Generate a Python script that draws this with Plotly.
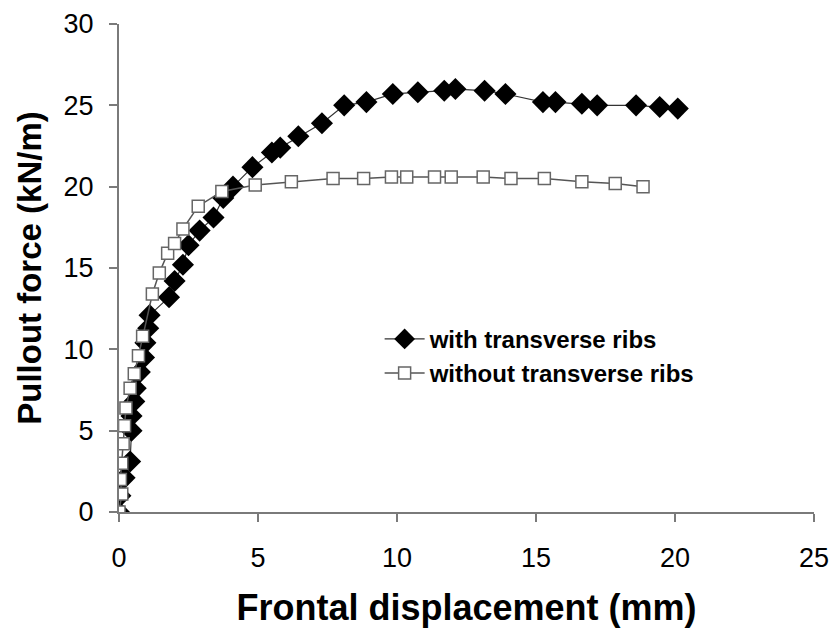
import plotly.graph_objects as go

# Pullout test results: frontal displacement (mm) vs pullout force (kN/m)
with_ribs_x = [0, 0.05, 0.2, 0.4, 0.45, 0.45, 0.55, 0.6, 0.75, 0.9, 0.95, 1.05, 1.1,
               1.8, 2.0, 2.3, 2.5, 2.9, 3.4, 3.75, 4.1, 4.8, 5.5, 5.8, 6.45, 7.3,
               8.1, 8.9, 9.85, 10.75, 11.7, 12.1, 13.15, 13.9, 15.25, 15.7, 16.65,
               17.2, 18.6, 19.45, 20.1]
with_ribs_y = [0, 1.0, 2.1, 3.1, 5.0, 5.9, 6.8, 7.6, 8.6, 9.5, 10.4, 11.3, 12.1,
               13.2, 14.2, 15.2, 16.4, 17.3, 18.1, 19.3, 20.0, 21.2, 22.1, 22.4, 23.1, 23.9,
               25.0, 25.2, 25.7, 25.8, 25.9, 26.0, 25.9, 25.7, 25.2, 25.2, 25.1,
               25.0, 25.0, 24.9, 24.8]

without_ribs_x = [0, 0.1, 0.05, 0.1, 0.15, 0.2, 0.25, 0.4, 0.55, 0.7, 0.85, 1.2, 1.45,
                  1.75, 2.0, 2.3, 2.85, 3.7, 4.9, 6.2, 7.7, 8.8, 9.8, 10.35, 11.35,
                  11.95, 13.1, 14.1, 15.3, 16.65, 17.85, 18.85]
without_ribs_y = [0, 1.1, 2.0, 3.0, 4.2, 5.3, 6.4, 7.6, 8.5, 9.6, 10.8, 13.4, 14.7,
                  15.9, 16.5, 17.4, 18.8, 19.7, 20.1, 20.3, 20.5, 20.5, 20.6, 20.6, 20.6,
                  20.6, 20.6, 20.5, 20.5, 20.3, 20.2, 20.0]

x_ticks = [0, 5, 10, 15, 20, 25]
y_ticks = [0, 5, 10, 15, 20, 25, 30]

font_family = "Liberation Sans, Arial, sans-serif"

fig = go.Figure()

fig.add_trace(go.Scatter(
    x=with_ribs_x, y=with_ribs_y,
    mode="lines+markers",
    name="with transverse ribs",
    legendgroup="with",
    line=dict(color="#333333", width=1.2),
    marker=dict(symbol="diamond", size=17, color="black",
                line=dict(color="black", width=0)),
))

fig.add_trace(go.Scatter(
    x=without_ribs_x, y=without_ribs_y,
    mode="lines+markers",
    name="without transverse ribs",
    legendgroup="without",
    line=dict(color="#555555", width=1.5),
    marker=dict(symbol="square", size=12, color="white",
                line=dict(color="#666666", width=1.5)),
))

axis_common = dict(
    showgrid=False, zeroline=False,
    showline=True, linecolor="#7a7a7a", linewidth=2,
    ticks="outside", tickcolor="#7a7a7a", ticklen=8, tickwidth=2,
    tickfont=dict(family=font_family, size=27, color="black"),
    ticklabeloverflow="allow",
    automargin=False,
)

fig.update_xaxes(
    range=[0, 25], tickvals=x_ticks,
    ticklabelstandoff=13,
    title=dict(text="<b>Frontal displacement (mm)</b>",
               font=dict(family=font_family, size=36, color="black"),
               standoff=22),
    **axis_common,
)
fig.update_yaxes(
    range=[0, 30], tickvals=y_ticks,
    ticklabelstandoff=10,
    title=dict(text="<b>Pullout force (kN/m)</b>",
               font=dict(family=font_family, size=33, color="black"),
               standoff=12),
    **axis_common,
)

fig.update_layout(
    width=830, height=631,
    margin=dict(l=119, r=16, t=24, b=119),
    plot_bgcolor="white", paper_bgcolor="white",
    showlegend=True,
    legend=dict(
        x=0.375, y=0.40, xanchor="left", yanchor="top",
        bgcolor="rgba(0,0,0,0)",
        font=dict(family=font_family, size=24, color="black", weight="bold"),
        itemwidth=40, tracegroupgap=0,
    ),
)

fig.write_html("out.html")
